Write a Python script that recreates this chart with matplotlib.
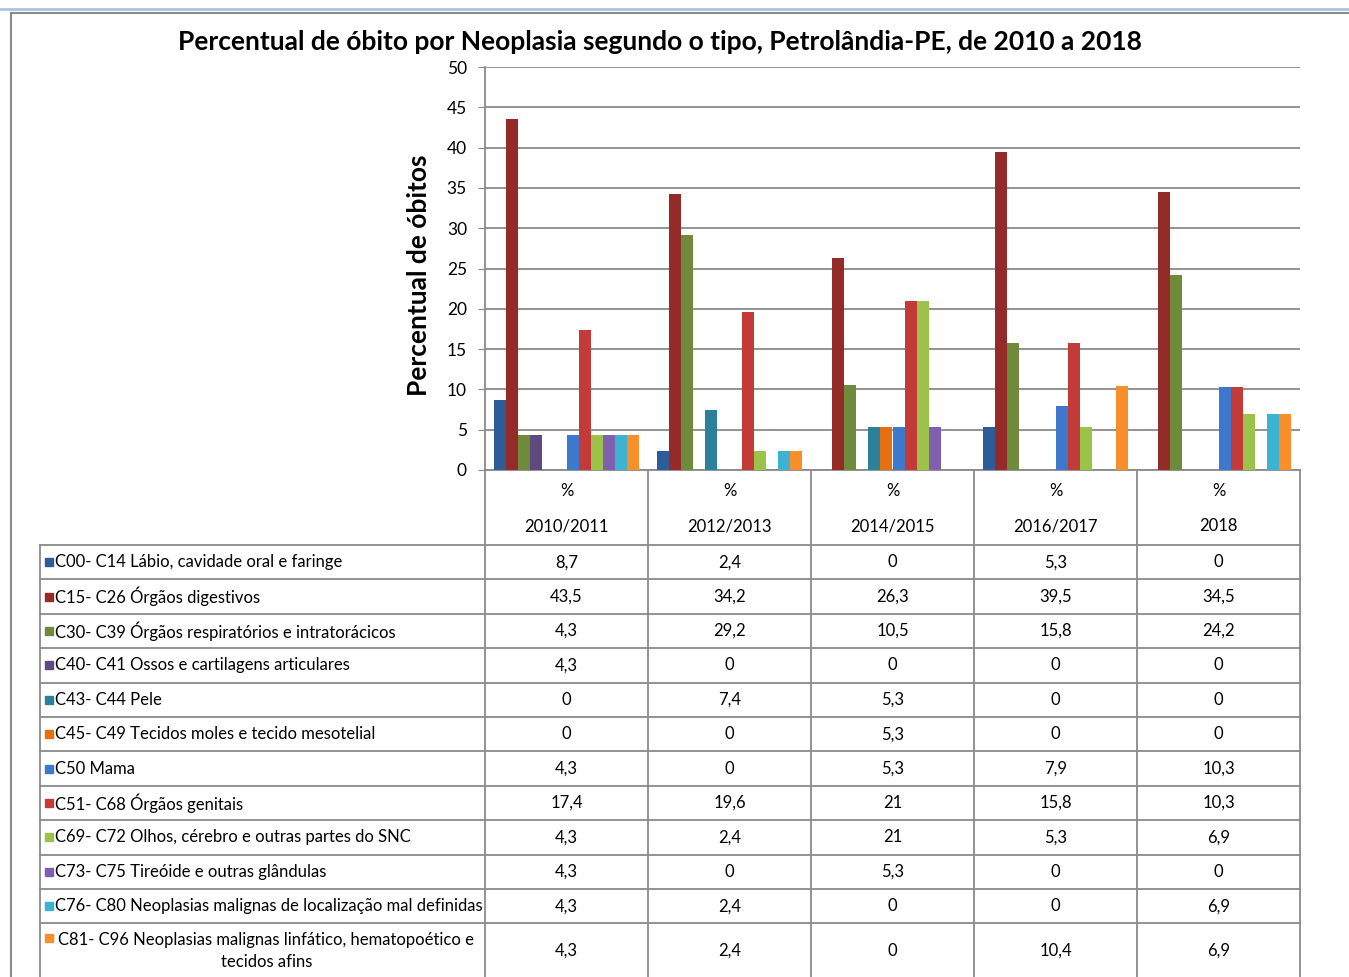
import matplotlib
matplotlib.use('Agg')
import matplotlib.pyplot as plt
from matplotlib.patches import Rectangle

# dados
anos = ['2010/2011', '2012/2013', '2014/2015', '2016/2017', '2018']
tipos = ['C00- C14 Lábio, cavidade oral e faringe',
         'C15- C26 Órgãos digestivos',
         'C30- C39 Órgãos respiratórios e intratorácicos',
         'C40- C41 Ossos e cartilagens articulares',
         'C43- C44 Pele',
         'C45- C49 Tecidos moles e tecido mesotelial',
         'C50 Mama',
         'C51- C68 Órgãos genitais',
         'C69- C72 Olhos, cérebro e outras partes do SNC',
         'C73- C75 Tireóide e outras glândulas',
         'C76- C80 Neoplasias malignas de localização mal definidas',
         'C81- C96 Neoplasias malignas linfático, hematopoético e\ntecidos afins']
c00_c14 = [8.7, 2.4, 0, 5.3, 0]
c15_c26 = [43.5, 34.2, 26.3, 39.5, 34.5]
c30_c39 = [4.3, 29.2, 10.5, 15.8, 24.2]
c40_c41 = [4.3, 0, 0, 0, 0]
c43_c44 = [0, 7.4, 5.3, 0, 0]
c45_c49 = [0, 0, 5.3, 0, 0]
c50 = [4.3, 0, 5.3, 7.9, 10.3]
c51_c68 = [17.4, 19.6, 21, 15.8, 10.3]
c69_c72 = [4.3, 2.4, 21, 5.3, 6.9]
c73_c75 = [4.3, 0, 5.3, 0, 0]
c76_c80 = [4.3, 2.4, 0, 0, 6.9]
c81_c96 = [4.3, 2.4, 0, 10.4, 6.9]
valores = [c00_c14, c15_c26, c30_c39, c40_c41, c43_c44, c45_c49,
           c50, c51_c68, c69_c72, c73_c75, c76_c80, c81_c96]

cores = ['#2E5C99', '#952B28', '#6E8A3A', '#5E4A80', '#2A8199', '#E4700F',
         '#3D78CC', '#C23B38', '#9BC34A', '#7F5FAF', '#3DB3D4', '#F98F2A']

plt.rcParams['font.family'] = ['Lato', 'DejaVu Sans']

W, H = 1349, 977
fig = plt.figure(figsize=(W / 100, H / 100), dpi=100)

# eixo de fundo em pixels (moldura + tabela)
bg = fig.add_axes([0, 0, 1, 1])
bg.set_xlim(0, W)
bg.set_ylim(H, 0)
bg.axis('off')

# área do gráfico
x0, x1, y0, y1 = 485, 1300, 67, 470
ax = fig.add_axes([x0 / W, (H - y1) / H, (x1 - x0) / W, (y1 - y0) / H])
ax.set_facecolor('none')

n = len(valores)
larg = 1 / (n + 1.5)
for j, (vals, cor) in enumerate(zip(valores, cores)):
    xs = [i + 0.5 + (j - (n - 1) / 2) * larg for i in range(len(anos))]
    ax.bar(xs, vals, width=larg, color=cor, zorder=3)

ax.set_xlim(0, len(anos))
ax.set_ylim(0, 50)
ax.set_yticks(range(0, 51, 5))
ax.set_xticks([])
ax.grid(axis='y', color='#8a8a8a', linewidth=1.3)
for s in ['top', 'right']:
    ax.spines[s].set_visible(False)
for s in ['left', 'bottom']:
    ax.spines[s].set_color('#8a8a8a')
    ax.spines[s].set_linewidth(1.3)
ax.tick_params(axis='y', length=5, color='#8a8a8a', labelsize=12.5, pad=8)
ax.set_ylabel('Percentual de óbitos', fontsize=19, fontweight='bold')
ax.yaxis.set_label_coords(-0.066, 0.484)

fig.text(660 / W, 1 - 42 / H, 'Percentual de óbito por Neoplasia segundo o tipo, Petrolândia-PE, de 2010 a 2018',
         ha='center', va='center', fontsize=19, fontweight='bold')

# moldura
bg.plot([0, W], [9, 9], color='#a9c4e4', lw=2)
bg.plot([11, W], [13, 13], color='#8a8a8a', lw=1.5)
bg.plot([11, 11], [13, H], color='#8a8a8a', lw=1.5)

# tabela de dados
lc = '#8a8a8a'
tx0 = 40
colw = (x1 - x0) / len(anos)
linhas = [545 + k * 34.4 for k in range(n)]
fundo = H + 5
for k in range(len(anos) + 1):
    xx = x0 + k * colw
    bg.plot([xx, xx], [y1, fundo], color=lc, lw=1.3)
bg.plot([tx0, tx0], [linhas[0], fundo], color=lc, lw=1.3)
for yy in linhas:
    bg.plot([tx0, x1], [yy, yy], color=lc, lw=1.3)

fs = 12
for i, ano in enumerate(anos):
    cx = x0 + (i + 0.5) * colw
    bg.text(cx, 491, '%', ha='center', va='center', fontsize=fs)
    bg.text(cx, 526, ano, ha='center', va='center', fontsize=fs)


def fmt(v):
    if v == int(v):
        return str(int(v))
    return ('%.1f' % v).replace('.', ',')


for j, (tipo, vals, cor) in enumerate(zip(tipos, valores, cores)):
    top = linhas[j]
    if j < n - 1:
        cy = top + 17.2
        bg.add_patch(Rectangle((45, cy - 4), 8, 8, color=cor))
        bg.text(55, cy, tipo, ha='left', va='center', fontsize=fs)
    else:
        cy = 951
        bg.add_patch(Rectangle((45, 934), 8, 8, color=cor))
        bg.text((tx0 + x0) / 2 + 4, cy, tipo, ha='center', va='center', fontsize=fs,
                multialignment='center', linespacing=1.5)
    for i, v in enumerate(vals):
        bg.text(x0 + (i + 0.5) * colw, cy, fmt(v), ha='center', va='center', fontsize=fs)

fig.savefig('out.png', dpi=100)
